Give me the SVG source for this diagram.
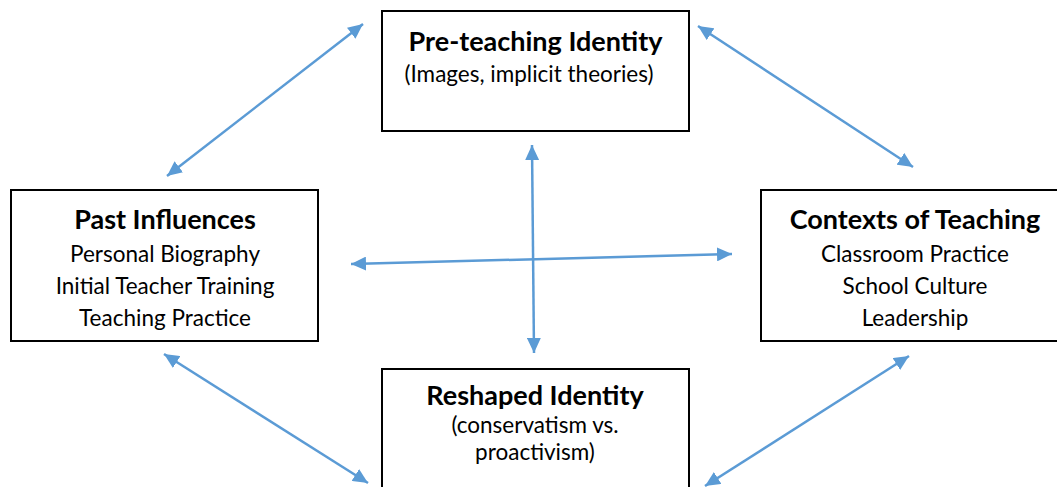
<svg xmlns="http://www.w3.org/2000/svg" width="1057" height="487" viewBox="0 0 1057 487">
<style>
.box{fill:#fff;stroke:#000;stroke-width:2}
.t{font-family:Lato,"Open Sans","Liberation Sans",sans-serif;fill:#000;text-anchor:middle}
.h{font-weight:bold;font-size:27px}
.s{font-size:22.5px}
.c{fill:none;stroke:#5B9BD5;stroke-width:2.5}
</style>
<defs>
<marker id="ah" markerUnits="userSpaceOnUse" markerWidth="16" markerHeight="14" refX="15" refY="7" orient="auto-start-reverse" viewBox="0 0 16 14">
<path d="M0,0 L15,7 L0,14 Z" fill="#5B9BD5"/>
</marker>
</defs>
<rect width="1057" height="487" fill="#fff"/>
<g id="pre-teaching">
<rect class="box" x="382" y="11" width="307" height="120"/>
<text class="t h" x="535.5" y="51">Pre-teaching Identity</text>
<text class="t s" x="529" y="82">(Images, implicit theories)</text>
</g>
<g id="past-influences">
<rect class="box" x="11" y="190" width="307" height="151"/>
<text class="t h" x="165" y="229">Past Influences</text>
<text class="t s" x="165" y="262">Personal Biography</text>
<text class="t s" x="165" y="294">Initial Teacher Training</text>
<text class="t s" x="165" y="326">Teaching Practice</text>
</g>
<g id="contexts">
<rect class="box" x="761" y="190" width="307" height="151"/>
<text class="t h" x="915" y="229">Contexts of Teaching</text>
<text class="t s" x="915" y="262">Classroom Practice</text>
<text class="t s" x="915" y="294">School Culture</text>
<text class="t s" x="915" y="326">Leadership</text>
</g>
<g id="reshaped">
<rect class="box" x="382" y="369" width="307" height="140"/>
<text class="t h" x="535" y="405">Reshaped Identity</text>
<text class="t s" x="535" y="433">(conservatism vs.</text>
<text class="t s" x="535" y="460">proactivism)</text>
</g>
<g id="connectors">
<line class="c" x1="167" y1="176" x2="363" y2="24" marker-start="url(#ah)" marker-end="url(#ah)"/>
<line class="c" x1="698" y1="26" x2="913" y2="167" marker-start="url(#ah)" marker-end="url(#ah)"/>
<line class="c" x1="164" y1="354" x2="368" y2="483" marker-start="url(#ah)" marker-end="url(#ah)"/>
<line class="c" x1="909" y1="356" x2="705" y2="486" marker-start="url(#ah)" marker-end="url(#ah)"/>
<line class="c" x1="532" y1="145" x2="534" y2="353" marker-start="url(#ah)" marker-end="url(#ah)"/>
<line class="c" x1="351" y1="264" x2="732" y2="254" marker-start="url(#ah)" marker-end="url(#ah)"/>
</g>
</svg>
